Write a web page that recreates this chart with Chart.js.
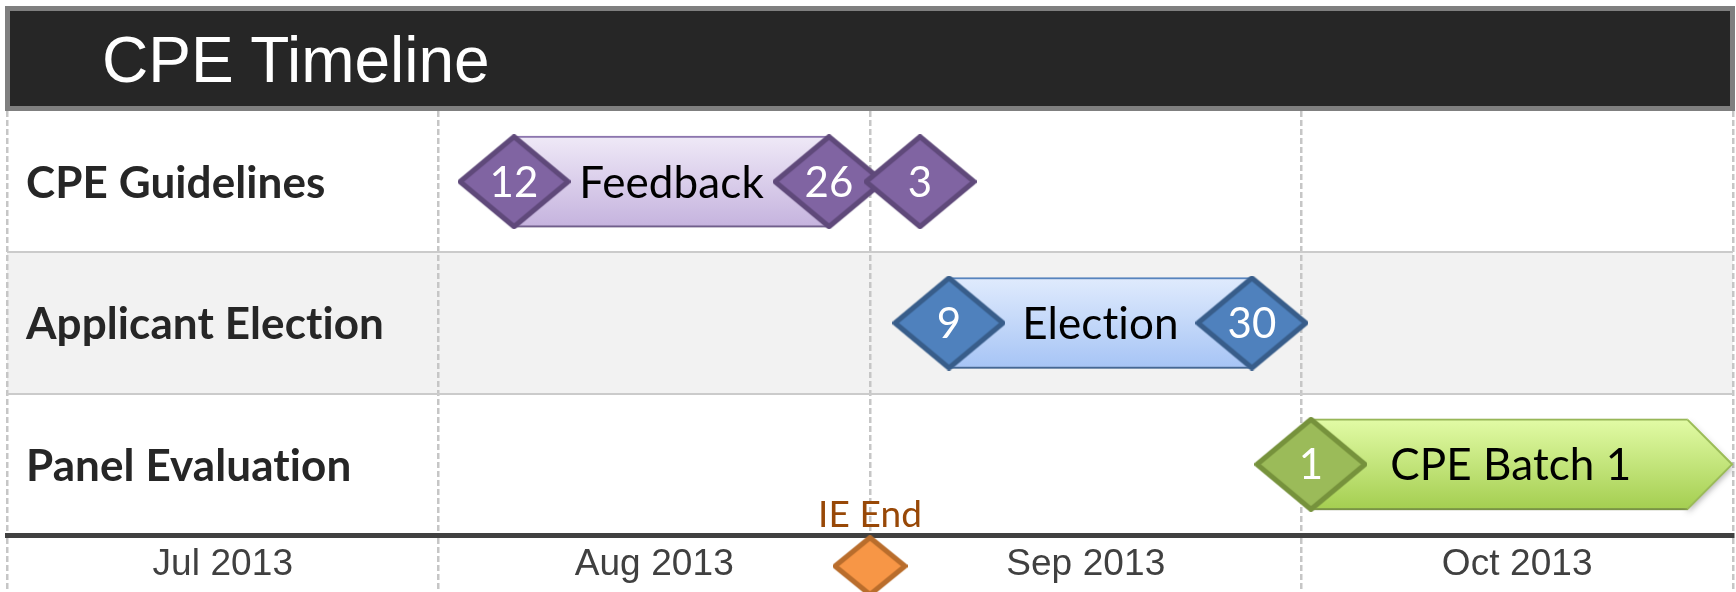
<!DOCTYPE html>
<html lang="en">
<head>
<meta charset="UTF-8" />
<title>CPE Timeline</title>
<script src="https://cdn.jsdelivr.net/npm/chart.js"></script>
<style>
  html, body { margin: 0; padding: 0; background: #fff; }
  #wrap { position: relative; width: 1736px; height: 592px; }
  #title {
    position: absolute; left: 5px; top: 6px; width: 1730px; height: 105px;
    box-sizing: border-box; border: 5px solid #7f7f7f; background: #262626;
    color: #fff; font: 64px "Liberation Sans", Arial, sans-serif;
    line-height: 99px; padding-left: 92px; z-index: 2; white-space: nowrap;
  }
</style>
</head>
<body>
<div id="wrap">
  <div id="title">CPE Timeline</div>
  <canvas id="timeline"></canvas>
</div>
<script>
const rows = ["CPE Guidelines", "Applicant Election", "Panel Evaluation"];
const months = ["Jul 2013", "Aug 2013", "Sep 2013", "Oct 2013"];

const taskNames = ["Feedback", "Election", "CPE Batch 1"];
const taskRow = [0, 1, 2];
const taskStart = [1.175, 2.183, 3.022];
const taskEnd = [1.905, 2.885, 3.896];
const taskTip = [null, null, 4.0];

const guideX = [1.175, 1.905, 2.116];
const guideDays = ["12", "26", "3"];
const electX = [2.183, 2.885];
const electDays = ["9", "30"];
const batchX = [3.022];
const batchDays = ["1"];

const ieEndX = [2.0];
const ieEndY = [2.72];
const ieEndText = ["IE End"];

// ---- styles ----
const BAR_H = 91;
const purple = { fill: "#8064a2", stroke: "#5f497a", top: "#efe9f7", bottom: "#c5b3de", edge: "#8f78b2" };
const blue   = { fill: "#4f81bd", stroke: "#385d8a", top: "#e0ebfd", bottom: "#a6c4f5", edge: "#5b8ac6" };
const green  = { fill: "#9bbb59", stroke: "#76923c", top: "#e2fba6", bottom: "#a4ce50", edge: "#9bbb59" };
const orange = { fill: "#f79646", stroke: "#b96d2c" };
const taskColors = [purple, blue, green];
const CLEAR = "rgba(0,0,0,0)";
const isInt = (v) => Number.isInteger(v);

function diamond(w, h, fill, stroke, lw) {
  const c = document.createElement("canvas");
  c.width = w; c.height = h;
  const g = c.getContext("2d");
  const m = lw / 2;
  g.beginPath();
  g.moveTo(w / 2, m);
  g.lineTo(w - m, h / 2);
  g.lineTo(w / 2, h - m);
  g.lineTo(m, h / 2);
  g.closePath();
  g.fillStyle = fill;
  g.fill();
  g.lineWidth = lw;
  g.lineJoin = "round";
  g.strokeStyle = stroke;
  g.stroke();
  return c;
}
const bigDiamond = (c) => diamond(113, 95, c.fill, c.stroke, 5);

function barGradient(ctx) {
  const i = ctx.dataIndex;
  const chart = ctx.chart;
  if (i === undefined) return purple.bottom;
  const col = taskColors[i];
  if (!chart.chartArea) return col.bottom;
  const yc = chart.scales.y.getPixelForValue(taskRow[i]);
  const g = chart.ctx.createLinearGradient(0, yc - BAR_H / 2, 0, yc + BAR_H / 2);
  g.addColorStop(0, col.top);
  g.addColorStop(1, col.bottom);
  return g;
}

function tipPath(chart, ctx, el, i) {
  const p = el.getProps(["x", "y", "height"], true);
  const tipX = chart.scales.x.getPixelForValue(taskTip[i]);
  ctx.beginPath();
  ctx.moveTo(p.x - 0.5, p.y - p.height / 2);
  ctx.lineTo(tipX, p.y);
  ctx.lineTo(p.x - 0.5, p.y + p.height / 2);
  ctx.closePath();
  return { p, tipX };
}

// no "ti" ligatures in the Lato labels
const noLigatures = {
  id: "noLigatures",
  beforeDraw(chart) {
    chart.ctx.letterSpacing = "0.1px";
  }
};

// shadow under the bars + the arrow tip of the last bar
const barDecor = {
  id: "barDecor",
  beforeDatasetDraw(chart, args) {
    if (chart.data.datasets[args.index].type !== "bar") return;
    const ctx = chart.ctx;
    ctx.save();
    ctx.shadowColor = "rgba(0,0,0,0.32)";
    ctx.shadowBlur = 6;
    ctx.shadowOffsetY = 3;
    args.meta.data.forEach((el, i) => {
      if (taskTip[i] == null) return;
      tipPath(chart, ctx, el, i);
      ctx.fillStyle = el.options.backgroundColor;
      ctx.fill();
    });
  },
  afterDatasetDraw(chart, args) {
    if (chart.data.datasets[args.index].type !== "bar") return;
    const ctx = chart.ctx;
    ctx.shadowColor = CLEAR;
    args.meta.data.forEach((el, i) => {
      if (taskTip[i] == null) return;
      const { p, tipX } = tipPath(chart, ctx, el, i);
      ctx.fillStyle = el.options.backgroundColor;
      ctx.fill();
      ctx.beginPath();
      ctx.moveTo(p.x - 0.5, p.y - p.height / 2 + 1);
      ctx.lineTo(tipX - 1, p.y);
      ctx.lineTo(p.x - 0.5, p.y + p.height / 2 - 1);
      ctx.lineWidth = 2;
      ctx.strokeStyle = el.options.borderColor;
      ctx.stroke();
    });
    ctx.restore();
  }
};

// texts inside bars / diamonds and above the IE End marker
const timelineText = {
  id: "timelineText",
  afterDatasetsDraw(chart) {
    const ctx = chart.ctx;
    chart.data.datasets.forEach((ds, di) => {
      if (!ds.texts) return;
      const meta = chart.getDatasetMeta(di);
      ctx.save();
      ctx.font = ds.textSize + "px Lato";
      ctx.fillStyle = ds.textColor;
      ctx.textAlign = "center";
      ctx.textBaseline = "alphabetic";
      meta.data.forEach((el, i) => {
        const p = el.getProps(["x", "y", "base"], true);
        let cx = p.x;
        if (ds.type === "bar") {
          const right = taskTip[i] == null ? p.x : (p.x + chart.scales.x.getPixelForValue(taskTip[i])) / 2;
          cx = (p.base + right) / 2;
        }
        const y = ds.textAbove ? p.y - ds.textAbove : p.y + ds.textSize * 0.36;
        ctx.fillText(ds.texts[i], cx, y);
      });
      ctx.restore();
    });
  }
};

const rowBand = {
  id: "rowBand",
  beforeDraw(chart) {
    const { ctx, chartArea, scales } = chart;
    const top = scales.y.getPixelForValue(0.5);
    const bottom = scales.y.getPixelForValue(1.5);
    ctx.save();
    ctx.fillStyle = "#f2f2f2";
    ctx.fillRect(chartArea.left, top, chartArea.right - chartArea.left, bottom - top);
    ctx.restore();
  }
};

const milestone = (xs, row, days, col) => ({
  type: "scatter",
  data: xs.map((x) => ({ x, y: row })),
  pointStyle: bigDiamond(col),
  pointRadius: 56,
  texts: days,
  textSize: 42,
  textColor: "#ffffff",
  clip: false,
  order: 1
});

const tickVal = (c) => (c.tick ? c.tick.value : NaN);

new Chart(document.getElementById("timeline"), {
  type: "scatter",
  data: {
    datasets: [
      milestone(guideX, 0, guideDays, purple),
      milestone(electX, 1, electDays, blue),
      milestone(batchX, 2, batchDays, green),
      {
        type: "scatter",
        data: ieEndX.map((x, i) => ({ x, y: ieEndY[i] })),
        pointStyle: diamond(75, 62, orange.fill, orange.stroke, 5),
        pointRadius: 40,
        texts: ieEndText,
        textSize: 37,
        textColor: "#984807",
        textAbove: 39,
        clip: false,
        order: 1
      },
      {
        type: "bar",
        indexAxis: "y",
        data: taskStart.map((s, i) => ({ x: [s, taskEnd[i]], y: taskRow[i] })),
        backgroundColor: barGradient,
        borderColor: (c) => (c.dataIndex === undefined ? purple.edge : taskColors[c.dataIndex].edge),
        borderWidth: (c) => (taskTip[c.dataIndex] == null ? 2 : { top: 2, bottom: 2, left: 2, right: 0 }),
        borderSkipped: false,
        barThickness: BAR_H,
        grouped: false,
        texts: taskNames,
        textSize: 44,
        textColor: "#000000",
        clip: false,
        order: 2
      }
    ]
  },
  options: {
    responsive: true,
    maintainAspectRatio: false,
    animation: false,
    events: [],
    layout: { autoPadding: false, padding: { top: 111, left: 7, right: 3, bottom: 0 } },
    plugins: { legend: { display: false }, tooltip: { enabled: false } },
    scales: {
      x: {
        type: "linear",
        min: 0,
        max: months.length,
        offset: false,
        afterBuildTicks: (s) => {
          s.ticks = [];
          for (let k = 0; k <= months.length * 2; k++) s.ticks.push({ value: k / 2 });
        },
        afterFit: (s) => { s.height = 57; },
        grid: {
          offset: false,
          color: (c) => (isInt(tickVal(c)) ? "#c6c6c6" : CLEAR),
          tickColor: (c) => (isInt(tickVal(c)) ? "#c6c6c6" : CLEAR),
          lineWidth: 2.5,
          tickWidth: 2.5,
          tickLength: 57,
          tickBorderDash: [6, 3]
        },
        border: { display: true, color: "#404040", width: 5, dash: [6, 3] },
        ticks: {
          autoSkip: false,
          maxRotation: 0,
          minRotation: 0,
          padding: -49,
          color: "#404040",
          font: { family: "'Liberation Sans', Arial, sans-serif", size: 37 },
          callback: (v) => (isInt(v) ? "" : months[Math.floor(v)])
        }
      },
      y: {
        type: "linear",
        min: -0.5,
        max: rows.length - 0.5,
        reverse: true,
        offset: false,
        afterBuildTicks: (s) => {
          s.ticks = [];
          for (let k = -1; k <= rows.length * 2 - 1; k++) s.ticks.push({ value: k / 2 });
        },
        afterFit: (s) => { s.width = 0; },
        grid: {
          offset: false,
          color: (c) => {
            const v = tickVal(c);
            return v > -0.5 && v < rows.length - 0.5 && !isInt(v) ? "#cbcbcb" : CLEAR;
          },
          lineWidth: 2,
          drawTicks: false
        },
        border: { display: false },
        ticks: {
          mirror: true,
          padding: 19,
          labelOffset: 2,
          autoSkip: false,
          color: "#262626",
          font: { family: "Lato", size: 44, weight: "bold" },
          callback: (v) => (isInt(v) ? rows[v] : "")
        }
      }
    }
  },
  plugins: [noLigatures, rowBand, barDecor, timelineText]
});
</script>
</body>
</html>
